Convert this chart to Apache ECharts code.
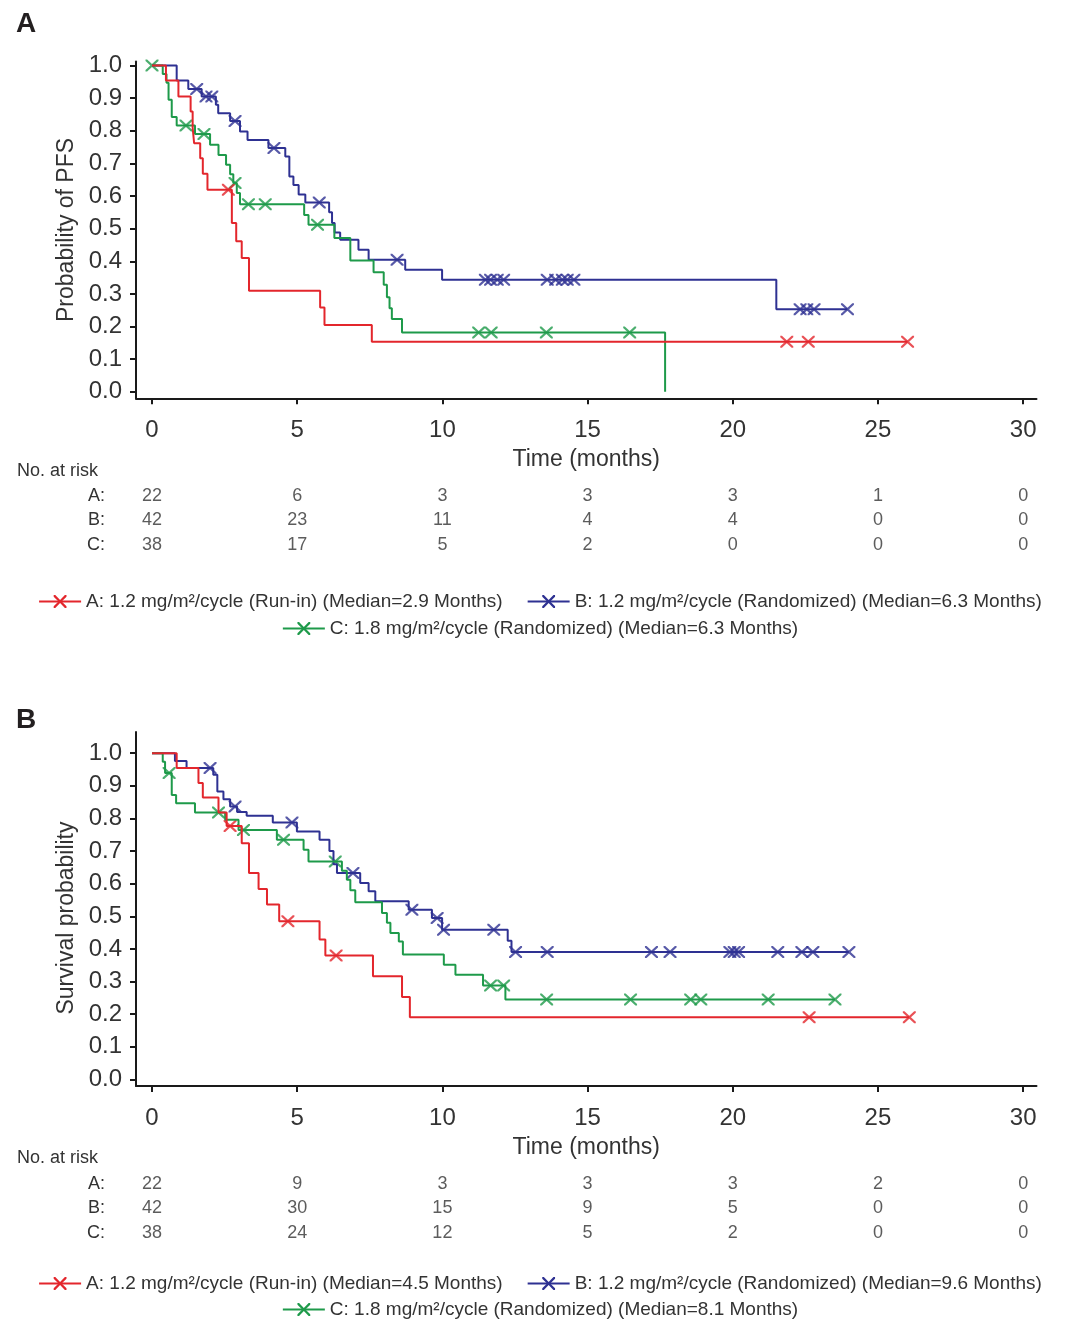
<!DOCTYPE html>
<html>
<head>
<meta charset="utf-8">
<script src="https://cdn.jsdelivr.net/npm/echarts@6/dist/echarts.min.js"></script>
<style>
html,body{margin:0;padding:0;background:#fff;}
#chart{width:1080px;height:1331px;}
</style>
</head>
<body>
<div id="chart"></div>
<script>
// ---------- Tick labels ----------
const xTicks = [0, 5, 10, 15, 20, 25, 30];
const yTicks = [0, 0.1, 0.2, 0.3, 0.4, 0.5, 0.6, 0.7, 0.8, 0.9, 1.0];
const riskRows = ['A:', 'B:', 'C:'];

// ---------- Panel A: PFS (event times / survival after step / censor times) ----------
const pfsA_t = [0, 0.48, 0.91, 1.33, 1.40, 1.45, 1.66, 1.75, 1.91, 2.75, 2.90, 3.09, 3.34, 5.79, 5.94, 7.57, 26.02];
const pfsA_s = [1, 0.954, 0.905, 0.859, 0.810, 0.762, 0.716, 0.668, 0.619, 0.517, 0.461, 0.410, 0.310, 0.258, 0.205, 0.153, 0.153];
const pfsA_c = [2.63, 21.86, 22.60, 26.02];

const pfsB_t = [0, 0.85, 1.25, 1.71, 2.20, 2.28, 2.69, 3.03, 3.29, 4.01, 4.59, 4.73, 4.87, 5.05, 5.28, 6.10, 6.20, 6.29, 6.48, 7.11, 7.46, 8.72, 9.99, 21.50, 23.95];
const pfsB_s = [1, 0.954, 0.928, 0.905, 0.880, 0.854, 0.830, 0.798, 0.772, 0.747, 0.721, 0.660, 0.634, 0.605, 0.580, 0.550, 0.517, 0.488, 0.466, 0.435, 0.405, 0.374, 0.343, 0.253, 0.253];
const pfsB_c = [1.54, 1.86, 2.06, 2.86, 4.20, 5.76, 8.44, 11.48, 11.66, 11.89, 12.11, 13.61, 13.90, 14.13, 14.30, 14.53, 22.32, 22.55, 22.80, 23.95];

const pfsC_t = [0, 0.37, 0.50, 0.57, 0.68, 0.85, 1.48, 2.00, 2.29, 2.55, 2.69, 2.80, 2.92, 3.03, 5.24, 5.39, 6.28, 6.83, 7.63, 7.98, 8.09, 8.18, 8.26, 8.61, 17.67];
const pfsC_s = [1, 0.974, 0.947, 0.895, 0.842, 0.816, 0.790, 0.757, 0.726, 0.696, 0.667, 0.640, 0.609, 0.575, 0.542, 0.512, 0.471, 0.402, 0.366, 0.328, 0.290, 0.256, 0.223, 0.182, 0];
const pfsC_c = [0, 1.17, 1.79, 2.86, 3.32, 3.90, 5.70, 11.25, 11.68, 13.58, 16.45];

// ---------- Panel B: OS ----------
const osA_t = [0, 0.85, 1.60, 1.75, 2.29, 2.57, 3.09, 3.34, 3.67, 3.96, 4.38, 5.77, 5.97, 7.61, 8.61, 8.88, 26.08];
const osA_s = [1, 0.955, 0.909, 0.864, 0.818, 0.777, 0.724, 0.633, 0.584, 0.536, 0.485, 0.429, 0.380, 0.316, 0.253, 0.191, 0.191];
const osA_c = [2.69, 4.68, 6.34, 22.63, 26.08];

const osB_t = [0, 0.79, 1.19, 2.11, 2.25, 2.46, 2.69, 2.93, 3.26, 4.16, 4.99, 5.77, 6.11, 6.25, 6.37, 7.17, 7.46, 7.69, 8.84, 9.64, 9.99, 12.25, 12.38, 24.0];
const osB_s = [1, 0.976, 0.955, 0.934, 0.883, 0.859, 0.837, 0.820, 0.808, 0.788, 0.760, 0.735, 0.700, 0.660, 0.633, 0.602, 0.577, 0.546, 0.520, 0.495, 0.459, 0.425, 0.391, 0.391];
const osB_c = [2.0, 2.86, 4.82, 6.92, 8.95, 9.82, 10.04, 11.77, 12.52, 13.61, 17.2, 17.84, 19.9, 20.05, 20.2, 21.55, 22.38, 22.76, 24.0];

const osC_t = [0, 0.37, 0.45, 0.68, 0.83, 1.48, 2.52, 2.98, 4.30, 5.22, 5.39, 6.54, 6.71, 6.83, 7.00, 7.92, 8.09, 8.21, 8.50, 8.64, 10.05, 10.45, 11.40, 12.17, 23.52];
const osC_s = [1, 0.974, 0.939, 0.872, 0.847, 0.818, 0.796, 0.765, 0.735, 0.704, 0.668, 0.640, 0.612, 0.580, 0.543, 0.510, 0.480, 0.449, 0.423, 0.383, 0.352, 0.321, 0.288, 0.245, 0.245];
const osC_c = [0.59, 2.29, 3.15, 4.53, 6.31, 11.66, 12.11, 13.59, 16.48, 18.55, 18.90, 21.22, 23.52];

// ---------- Numbers at risk ----------
const pfsRiskA = [22, 6, 3, 3, 3, 1, 0];
const pfsRiskB = [42, 23, 11, 4, 4, 0, 0];
const pfsRiskC = [38, 17, 5, 2, 0, 0, 0];
const osRiskA = [22, 9, 3, 3, 3, 2, 0];
const osRiskB = [42, 30, 15, 9, 5, 0, 0];
const osRiskC = [38, 24, 12, 5, 2, 0, 0];

// ---------- Legend names ----------
const pfsNames = [
  'A: 1.2 mg/m²/cycle (Run-in) (Median=2.9 Months)',
  'B: 1.2 mg/m²/cycle (Randomized) (Median=6.3 Months)',
  'C: 1.8 mg/m²/cycle (Randomized) (Median=6.3 Months)'
];
const osNames = [
  'A: 1.2 mg/m²/cycle (Run-in) (Median=4.5 Months)',
  'B: 1.2 mg/m²/cycle (Randomized) (Median=9.6 Months)',
  'C: 1.8 mg/m²/cycle (Randomized) (Median=8.1 Months)'
];

const FONT = '"Liberation Sans", Arial, Helvetica, sans-serif';
const RED = '#e3262c', BLUE = '#2e3192', GREEN = '#1e9a4a';
const TXT = '#333333', AX = '#1a1a1a';
const XSYM = 'path://M0,0L2.5,0L10,7.5L17.5,0L20,0L20,2.5L12.5,10L20,17.5L20,20L17.5,20L10,12.5L2.5,20L0,20L0,17.5L7.5,10L0,2.5Z';

function steps(t, s) { return t.map((x, i) => [x, s[i]]); }
function stepAt(t, s, c) {
  let v = s[0];
  for (let i = 0; i < t.length; i++) { if (t[i] <= c) v = s[i]; }
  return v;
}
function censors(t, s, c) { return c.map(x => [x, stepAt(t, s, x)]); }

function curve(name, color, t, s, c, g) {
  return [
    {
      name: name, type: 'line', xAxisIndex: g, yAxisIndex: g, step: 'end',
      data: steps(t, s), showSymbol: false, symbol: XSYM, symbolSize: 12,
      lineStyle: { color: color, width: 2 }, itemStyle: { color: color },
      emphasis: { disabled: true }, silent: true
    },
    {
      name: name + ' censored', type: 'scatter', xAxisIndex: g, yAxisIndex: g,
      data: censors(t, s, c), symbol: XSYM, symbolSize: [13, 12],
      itemStyle: { color: color }, silent: true
    }
  ];
}

function riskSeries(g, rows) {
  const data = [];
  rows.forEach((vals, r) => vals.forEach((v, i) => data.push([xTicks[i], riskRows[r], v])));
  return {
    type: 'scatter', xAxisIndex: g, yAxisIndex: g, data: data, symbolSize: 1,
    itemStyle: { color: 'transparent' }, silent: true,
    label: { show: true, position: 'inside', formatter: p => String(p.value[2]), fontSize: 18, color: TXT, fontFamily: FONT }
  };
}

function mainX(g) {
  return {
    type: 'value', gridIndex: g, min: -0.551, max: 30.46,
    name: 'Time (months)', nameLocation: 'middle', nameGap: 50,
    nameTextStyle: { fontSize: 23, color: TXT, fontFamily: FONT },
    axisLine: { show: true, onZero: false, lineStyle: { color: AX, width: 2 } },
    axisTick: { show: true, length: 6, customValues: xTicks, lineStyle: { color: AX, width: 2 } },
    axisLabel: { customValues: xTicks, fontSize: 24, color: TXT, margin: 20, fontFamily: FONT },
    splitLine: { show: false }
  };
}
function mainY(g, name, max, pad) {
  return {
    type: 'value', gridIndex: g, min: -0.02, max: max,
    name: name, nameLocation: 'middle', nameGap: 57,
    nameTextStyle: { fontSize: 23, color: TXT, fontFamily: FONT, padding: pad },
    axisLine: { show: true, onZero: false, lineStyle: { color: AX, width: 2 } },
    axisTick: { show: true, length: 6, customValues: yTicks, lineStyle: { color: AX, width: 2 } },
    axisLabel: { customValues: yTicks, formatter: v => v.toFixed(1), fontSize: 24, color: TXT, margin: 14, fontFamily: FONT },
    splitLine: { show: false }
  };
}
function riskX(g) { return { type: 'value', gridIndex: g, min: -0.551, max: 30.46, show: false }; }
function riskY(g) {
  return {
    type: 'category', gridIndex: g, data: riskRows, inverse: true,
    axisLine: { show: false }, axisTick: { show: false }, splitLine: { show: false },
    axisLabel: { fontSize: 18, color: TXT, margin: 31, fontFamily: FONT }
  };
}
function legend(top, names) {
  return {
    top: top, left: 'center', padding: 0, itemGap: 24, itemWidth: 42, itemHeight: 16,
    selectedMode: false, data: names,
    textStyle: { fontSize: 19, color: TXT, fontFamily: FONT }
  };
}

const option = {
  animation: false,
  backgroundColor: '#ffffff',
  textStyle: { fontFamily: FONT },
  title: [
    { text: 'A', left: 16, top: 10, padding: 0, textStyle: { fontSize: 28, fontWeight: 'bold', color: '#231f20', fontFamily: FONT } },
    { text: 'B', left: 16, top: 706, padding: 0, textStyle: { fontSize: 28, fontWeight: 'bold', color: '#231f20', fontFamily: FONT } },
    { text: 'No. at risk', left: 17, top: 462, padding: 0, textStyle: { fontSize: 18, fontWeight: 'normal', color: TXT, fontFamily: FONT } },
    { text: 'No. at risk', left: 17, top: 1149, padding: 0, textStyle: { fontSize: 18, fontWeight: 'normal', color: TXT, fontFamily: FONT } }
  ],
  grid: [
    { left: 136, top: 61.6, width: 900.5, height: 336.7 },
    { left: 136, top: 732, width: 900.5, height: 354 },
    { left: 136, top: 483.75, width: 900.5, height: 73.5 },
    { left: 136, top: 1171.75, width: 900.5, height: 73.5 }
  ],
  xAxis: [mainX(0), mainX(1), riskX(2), riskX(3)],
  yAxis: [
    mainY(0, 'Probability of PFS', 1.012, [0, 0, 0, 0]),
    mainY(1, 'Survival probability', 1.065, [0, 18, 0, 0]),
    riskY(2), riskY(3)
  ],
  legend: [
    legend(592, [pfsNames[0], pfsNames[1]]),
    legend(619, [pfsNames[2]]),
    legend(1274, [osNames[0], osNames[1]]),
    legend(1300, [osNames[2]])
  ],
  series: [].concat(
    curve(pfsNames[1], BLUE, pfsB_t, pfsB_s, pfsB_c, 0),
    curve(pfsNames[2], GREEN, pfsC_t, pfsC_s, pfsC_c, 0),
    curve(pfsNames[0], RED, pfsA_t, pfsA_s, pfsA_c, 0),
    curve(osNames[1], BLUE, osB_t, osB_s, osB_c, 1),
    curve(osNames[2], GREEN, osC_t, osC_s, osC_c, 1),
    curve(osNames[0], RED, osA_t, osA_s, osA_c, 1),
    [riskSeries(2, [pfsRiskA, pfsRiskB, pfsRiskC]), riskSeries(3, [osRiskA, osRiskB, osRiskC])]
  )
};

const chart = echarts.init(document.getElementById('chart'), null, { renderer: 'canvas' });
chart.setOption(option);
</script>
</body>
</html>
